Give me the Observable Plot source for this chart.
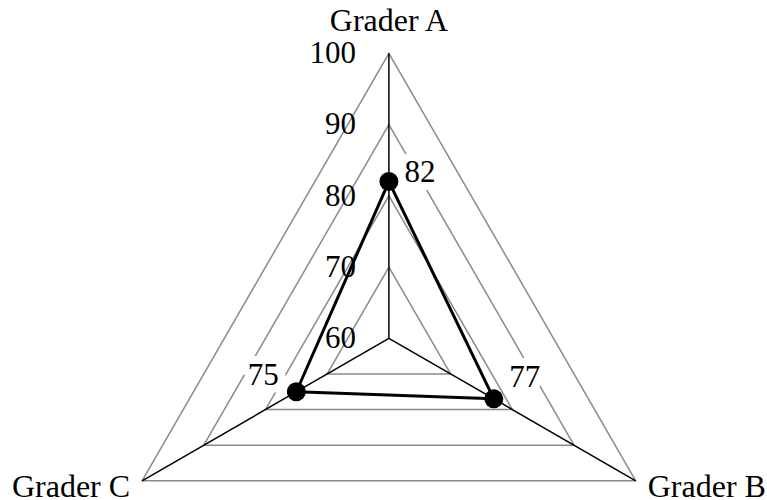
<!DOCTYPE html>
<html>
<head>
<meta charset="utf-8">
<script src="https://cdn.jsdelivr.net/npm/d3@7"></script>
<script src="https://cdn.jsdelivr.net/npm/@observablehq/plot@0.6"></script>
<style>
  html, body { margin: 0; padding: 0; background: #fff; }
  #chart svg { display: block; }
</style>
</head>
<body>
<div id="chart"></div>
<script>
// ---- data ----
const categories = ["Grader A", "Grader B", "Grader C"];
const scores = [82, 77, 75];
const ticks = [60, 70, 80, 90, 100];

// ---- radar geometry (in unit space; scales map to pixels) ----
const rMin = 60, rMax = 100;
const angle = i => (90 - 120 * i) * Math.PI / 180;
const norm = v => (v - rMin) / (rMax - rMin);
const pt = (v, i) => ({ x: norm(v) * Math.cos(angle(i)), y: norm(v) * Math.sin(angle(i)) });
const loop = [0, 1, 2, 0];

const rings = ticks.filter(t => t > rMin)
  .flatMap(t => loop.map(i => ({ ...pt(t, i), ring: t })));
const spokes = categories.map((c, i) => {
  const p = pt(rMax, i);
  return { x1: 0, y1: 0, x2: p.x, y2: p.y, name: c };
});
const poly = loop.map(i => pt(scores[i], i));
const pts = scores.map((v, i) => ({ ...pt(v, i), v, name: categories[i] }));
const cats = categories.map((c, i) => ({ ...pt(rMax, i), name: c }));

const font = "Liberation Serif, Times New Roman, serif";
const cx = 388.4, cy = 337.8, R = 285;

// per-label placement (style only)
const valueStyle = [
  { dx: 31, dy: -9 },
  { dx: 31, dy: -22 },
  { dx: -33, dy: -17 }
];
const catStyle = [
  { textAnchor: "middle", dx: 0, dy: -32.5 },
  { textAnchor: "start", dx: 12, dy: 6 },
  { textAnchor: "end", dx: -12, dy: 6 }
];

const chart = Plot.plot({
  width: 767,
  height: 500,
  margin: 0,
  style: { fontFamily: font, background: "white" },
  x: { domain: [-1, 1], range: [cx - R, cx + R], axis: null },
  y: { domain: [-1, 1], range: [cy + R, cy - R], axis: null },
  marks: [
    Plot.line(rings, { x: "x", y: "y", z: "ring", stroke: "#8a8a8a", strokeWidth: 1.5 }),
    Plot.link(spokes, { x1: "x1", y1: "y1", x2: "x2", y2: "y2", stroke: "black", strokeWidth: 1.5 }),
    Plot.text(ticks, {
      x: 0, y: t => norm(t), text: t => String(t),
      textAnchor: "end", dx: -33, fontSize: 31, fill: "black", fontFamily: font
    }),
    ...pts.map((d, i) => Plot.text([d], {
      x: "x", y: "y", text: d => String(d.v),
      dx: valueStyle[i].dx, dy: valueStyle[i].dy,
      fontSize: 31, fill: "black", stroke: "white", strokeWidth: 16, fontFamily: font
    })),
    Plot.line(poly, { x: "x", y: "y", stroke: "black", strokeWidth: 3, strokeLinejoin: "round" }),
    Plot.dot(pts, { x: "x", y: "y", r: 9.5, fill: "black", stroke: "none" }),
    ...cats.map((d, i) => Plot.text([d], {
      x: "x", y: "y", text: "name",
      textAnchor: catStyle[i].textAnchor, dx: catStyle[i].dx, dy: catStyle[i].dy,
      fontSize: 32, fill: "black", fontFamily: font
    }))
  ]
});
document.getElementById("chart").appendChild(chart);
</script>
</body>
</html>
